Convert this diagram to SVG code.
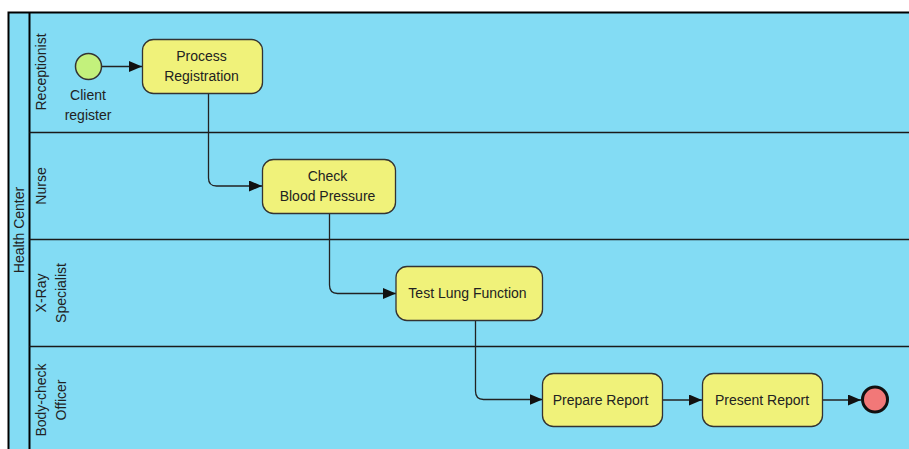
<svg xmlns="http://www.w3.org/2000/svg" width="909" height="449" viewBox="0 0 909 449">
<defs>
<style>
text{font-family:"Liberation Sans",Arial,sans-serif;font-size:14px;fill:#222;}
.lane{fill:#83DCF4;}
.div{stroke:#1a1a1a;stroke-width:1.5;fill:none;}
.task{fill:#F0F27A;stroke:#333;stroke-width:1.3;}
.conn{stroke:#222;stroke-width:1.3;fill:none;}
</style>
<marker id="arr" viewBox="0 0 13 11" refX="13" refY="5.5" markerWidth="13" markerHeight="11" markerUnits="userSpaceOnUse" orient="auto">
<path d="M0,0 L13,5.5 L0,11 Z" fill="#111"/>
</marker>
</defs>
<rect width="909" height="449" fill="#fff"/>
<g id="pool">
<rect class="lane" x="8.5" y="12.5" width="905" height="445"/>
<path d="M8.5,460 V12.5 H910" stroke="#000" stroke-width="2" fill="none"/>
<path d="M29.5,12.5 V460" stroke="#000" stroke-width="2" fill="none"/>
<text transform="translate(24,230) rotate(-90)" text-anchor="middle">Health Center</text>
</g>
<g id="lane-receptionist">
<text transform="translate(46,72) rotate(-90)" text-anchor="middle">Receptionist</text>
<path class="div" d="M29.5,132.5 H910"/>
</g>
<g id="lane-nurse">
<text transform="translate(46,186) rotate(-90)" text-anchor="middle">Nurse</text>
<path class="div" d="M29.5,239.5 H910"/>
</g>
<g id="lane-xray">
<text transform="translate(46,293) rotate(-90)" text-anchor="middle">X-Ray</text>
<text transform="translate(66,293) rotate(-90)" text-anchor="middle">Specialist</text>
<path class="div" d="M29.5,346.5 H910"/>
</g>
<g id="lane-officer">
<text transform="translate(46,400) rotate(-90)" text-anchor="middle">Body-check</text>
<text transform="translate(66,400) rotate(-90)" text-anchor="middle">Officer</text>
</g>
<g id="connectors">
<path class="conn" d="M102,66.5 H142" marker-end="url(#arr)"/>
<path class="conn" d="M208.5,93 V178 Q208.5,186 216.5,186 H262" marker-end="url(#arr)"/>
<path class="conn" d="M329.5,213 V285 Q329.5,293.5 337.5,293.5 H396" marker-end="url(#arr)"/>
<path class="conn" d="M475.5,320 V391 Q475.5,399.5 483.5,399.5 H542.5" marker-end="url(#arr)"/>
<path class="conn" d="M662.5,400 H702" marker-end="url(#arr)"/>
<path class="conn" d="M822.5,400 H861" marker-end="url(#arr)"/>
</g>
<g id="start">
<circle cx="88.5" cy="66.5" r="13" fill="#C3F17C" stroke="#333" stroke-width="1.5"/>
<text x="88" y="100" text-anchor="middle">Client</text>
<text x="88" y="120" text-anchor="middle">register</text>
</g>
<g id="process-registration">
<rect class="task" x="142.5" y="39.5" width="120" height="54" rx="11"/>
<text x="201.5" y="61" text-anchor="middle">Process</text>
<text x="201.5" y="81" text-anchor="middle">Registration</text>
</g>
<g id="check-blood-pressure">
<rect class="task" x="262.5" y="159.5" width="133" height="54" rx="11"/>
<text x="327.5" y="181" text-anchor="middle">Check</text>
<text x="327.5" y="201" text-anchor="middle">Blood Pressure</text>
</g>
<g id="test-lung-function">
<rect class="task" x="396" y="266.5" width="146.5" height="54" rx="11"/>
<text x="467.5" y="298" text-anchor="middle">Test Lung Function</text>
</g>
<g id="prepare-report">
<rect class="task" x="542.5" y="373.5" width="120" height="53" rx="11"/>
<text x="600.5" y="404.5" text-anchor="middle">Prepare Report</text>
</g>
<g id="present-report">
<rect class="task" x="702.5" y="373.5" width="120" height="53" rx="11"/>
<text x="762" y="404.5" text-anchor="middle">Present Report</text>
</g>
<g id="end">
<circle cx="875" cy="399.5" r="12.5" fill="#F27878" stroke="#111" stroke-width="3"/>
</g>
</svg>
